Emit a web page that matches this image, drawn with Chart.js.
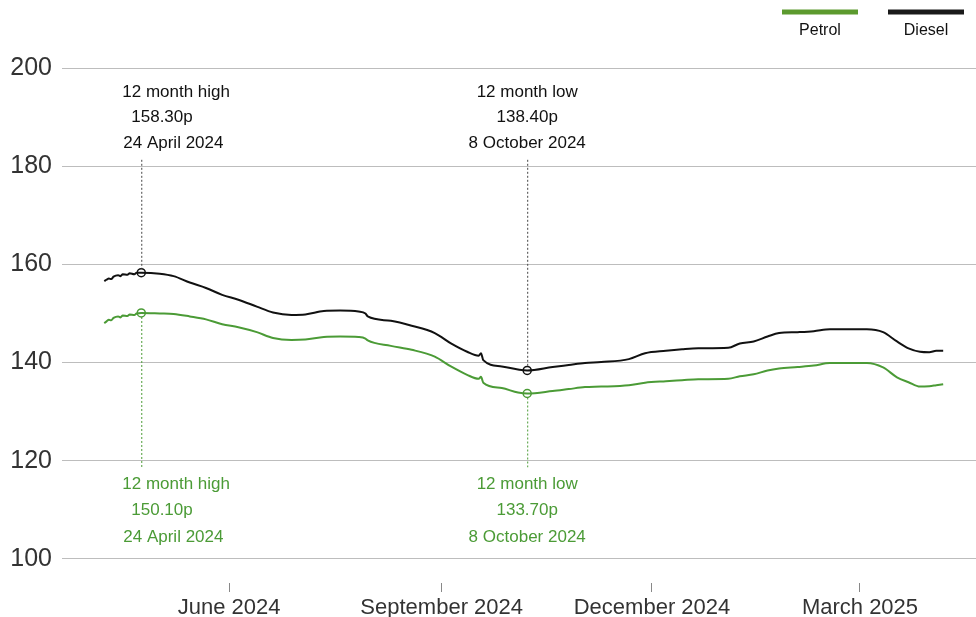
<!DOCTYPE html>
<html>
<head>
<meta charset="utf-8">
<style>
  html, body { margin: 0; padding: 0; background: #fff; overflow: hidden; }
  #wrap { width: 976px; height: 617px; position: relative; }
</style>
<script src="https://cdn.jsdelivr.net/npm/chart.js@4/dist/chart.umd.min.js"></script>
</head>
<body>
<div id="wrap"><canvas id="fuelChart"></canvas></div>
<script>
// price per litre, pence
const dates = [
  '2024-04-08','2024-04-09','2024-04-10','2024-04-11','2024-04-12','2024-04-14','2024-04-15','2024-04-16',
  '2024-04-18','2024-04-19','2024-04-21','2024-04-22','2024-04-24','2024-05-02','2024-05-08','2024-05-15',
  '2024-05-22','2024-05-29','2024-06-05','2024-06-13','2024-06-20','2024-06-28','2024-07-04','2024-07-12',
  '2024-07-19','2024-07-27','2024-07-30','2024-07-31','2024-08-10','2024-08-19','2024-08-29','2024-09-05',
  '2024-09-12','2024-09-17','2024-09-18','2024-09-19','2024-09-27','2024-10-04','2024-10-08','2024-10-19',
  '2024-10-26','2024-11-02','2024-11-09','2024-11-21','2024-11-28','2024-12-07','2024-12-14','2024-12-21',
  '2025-01-03','2025-01-08','2025-01-14','2025-01-20','2025-01-25','2025-02-02','2025-02-09','2025-02-16',
  '2025-03-04','2025-03-11','2025-03-17','2025-03-22','2025-03-27','2025-03-31','2025-04-03','2025-04-06'
];
const diesel = [
  156.6,156.9,157.1,157.0,157.5,157.8,157.6,158.0,
  157.9,158.2,158.0,158.3,158.3,158.1,157.6,156.3,
  155.2,153.8,152.8,151.4,150.2,149.7,149.8,150.5,
  150.6,150.4,150.0,149.4,148.5,147.5,146.0,143.9,
  142.2,141.4,141.9,140.5,139.2,138.6,138.4,139.1,
  139.5,139.9,140.1,140.7,141.9,142.4,142.7,142.9,
  143.0,143.9,144.3,145.3,146.0,146.2,146.4,146.8,
  146.8,146.2,144.3,142.9,142.2,142.1,142.4,142.4
];
const petrol = [
  148.0,148.4,148.7,148.6,149.1,149.4,149.2,149.6,
  149.5,149.8,149.7,150.0,150.1,150.0,149.9,149.4,
  148.8,147.8,147.2,146.2,145.0,144.6,144.7,145.2,
  145.3,145.2,144.9,144.5,143.4,142.6,141.2,139.2,
  137.5,136.7,137.1,135.9,134.8,133.9,133.7,134.2,
  134.6,135.0,135.1,135.4,135.9,136.2,136.4,136.6,
  136.7,137.2,137.6,138.4,138.8,139.1,139.4,139.9,
  139.9,139.0,137.0,136.0,135.1,135.2,135.4,135.6
];
const yTicks = [100, 120, 140, 160, 180, 200];
const xTickDates = ['2024-06-01', '2024-09-01', '2024-12-01', '2025-03-01'];
const xTickLabels = ['June 2024', 'September 2024', 'December 2024', 'March 2025'];
const highDate = '2024-04-24';
const lowDate = '2024-10-08';
const highText = { diesel: ['12 month high', '158.30p', '24 April 2024'], petrol: ['12 month high', '150.10p', '24 April 2024'] };
const lowText = { diesel: ['12 month low', '138.40p', '8 October 2024'], petrol: ['12 month low', '133.70p', '8 October 2024'] };

const GREEN = '#4b9b36';
const BLACK = '#111111';
const FONT = '"Liberation Sans", Arial, Helvetica, sans-serif';

function dayNum(s) {
  const [y, m, d] = s.split('-').map(Number);
  return Date.UTC(y, m - 1, d) / 864e5;
}

const xs = dates.map(dayNum);
const highIdx = dates.indexOf(highDate);
const lowIdx = dates.indexOf(lowDate);

const markRadius = ctx => (ctx.dataIndex === highIdx || ctx.dataIndex === lowIdx) ? 4 : 0;

// annotations + legend
const fuelPlugin = {
  id: 'fuelAnnotations',
  afterDatasetsDraw(chart) {
    const { ctx, scales: { x, y } } = chart;
    ctx.save();

    const drawMark = (idx, text, leftOffsets, centered) => {
      const px = x.getPixelForValue(xs[idx]);
      const dY = y.getPixelForValue(diesel[idx]);
      const pY = y.getPixelForValue(petrol[idx]);

      ctx.lineWidth = 1;
      ctx.setLineDash([2, 2]);
      ctx.strokeStyle = '#444';
      ctx.beginPath();
      ctx.moveTo(px + 0.5, y.getPixelForValue(181.3));
      ctx.lineTo(px + 0.5, dY - 4);
      ctx.stroke();
      ctx.strokeStyle = GREEN;
      ctx.beginPath();
      ctx.moveTo(px + 0.5, pY + 4);
      ctx.lineTo(px + 0.5, y.getPixelForValue(118.7));
      ctx.stroke();
      ctx.setLineDash([]);

      ctx.font = '17px ' + FONT;
      ctx.textBaseline = 'middle';
      const dRows = [195.1, 190.0, 184.7];
      const pRows = [115.1, 110.0, 104.5];
      text.diesel.forEach((t, i) => {
        ctx.fillStyle = BLACK;
        if (centered) { ctx.textAlign = 'center'; ctx.fillText(t, px, y.getPixelForValue(dRows[i])); }
        else { ctx.textAlign = 'left'; ctx.fillText(t, px + leftOffsets[i], y.getPixelForValue(dRows[i])); }
      });
      text.petrol.forEach((t, i) => {
        ctx.fillStyle = GREEN;
        if (centered) { ctx.textAlign = 'center'; ctx.fillText(t, px, y.getPixelForValue(pRows[i])); }
        else { ctx.textAlign = 'left'; ctx.fillText(t, px + leftOffsets[i], y.getPixelForValue(pRows[i])); }
      });
    };

    drawMark(highIdx, highText, [-19, -10, -18], false);
    drawMark(lowIdx, lowText, null, true);

    // legend
    const items = [['Petrol', '#5c9a2e', 782, 858], ['Diesel', '#1a1a1a', 888, 964]];
    ctx.lineWidth = 5;
    ctx.font = '16px ' + FONT;
    ctx.textAlign = 'center';
    ctx.textBaseline = 'middle';
    items.forEach(([label, col, x0, x1]) => {
      ctx.strokeStyle = col;
      ctx.beginPath();
      ctx.moveTo(x0, 12);
      ctx.lineTo(x1, 12);
      ctx.stroke();
      ctx.fillStyle = '#111';
      ctx.fillText(label, (x0 + x1) / 2, 31);
    });
    ctx.restore();
  }
};

const ctx = document.getElementById('fuelChart').getContext('2d');
new Chart(ctx, {
  type: 'line',
  data: {
    datasets: [
      {
        label: 'Diesel',
        data: xs.map((v, i) => ({ x: v, y: diesel[i] })),
        borderColor: BLACK,
        borderWidth: 2,
        pointRadius: markRadius,
        pointBackgroundColor: 'rgba(255,255,255,0)',
        pointBorderColor: BLACK,
        pointBorderWidth: 1.5,
        cubicInterpolationMode: 'monotone',
        fill: false
      },
      {
        label: 'Petrol',
        data: xs.map((v, i) => ({ x: v, y: petrol[i] })),
        borderColor: GREEN,
        borderWidth: 2,
        pointRadius: markRadius,
        pointBackgroundColor: 'rgba(255,255,255,0)',
        pointBorderColor: GREEN,
        pointBorderWidth: 1.5,
        cubicInterpolationMode: 'monotone',
        fill: false
      }
    ]
  },
  options: {
    responsive: true,
    maintainAspectRatio: false,
    animation: false,
    layout: { padding: { top: 68, left: 0, right: 0, bottom: 0 } },
    plugins: {
      legend: { display: false },
      tooltip: { enabled: false }
    },
    scales: {
      x: {
        type: 'linear',
        min: dayNum('2024-06-01') - 72.3,
        max: dayNum('2025-03-01') + 50.2,
        afterBuildTicks: scale => {
          scale.ticks = xTickDates.map(d => ({ value: dayNum(d) }));
        },
        afterFit: scale => { scale.height = 34; },
        border: { display: false },
        grid: { drawOnChartArea: false, drawTicks: true, tickLength: 9, color: '#888' },
        ticks: {
          autoSkip: false,
          maxRotation: 0,
          padding: 5,
          color: '#333',
          font: { family: FONT, size: 22, lineHeight: 1 },
          callback: v => {
            const i = xTickDates.map(dayNum).indexOf(v);
            return i >= 0 ? xTickLabels[i] : '';
          }
        }
      },
      y: {
        min: 95.1,
        max: 200,
        afterBuildTicks: scale => {
          scale.ticks = yTicks.map(v => ({ value: v }));
        },
        afterFit: scale => { scale.width = 62; },
        border: { display: false },
        grid: { color: '#bdbdbd', drawTicks: false },
        ticks: {
          padding: 10,
          color: '#333',
          font: { family: FONT, size: 25 }
        }
      }
    }
  },
  plugins: [fuelPlugin]
});
</script>
</body>
</html>
